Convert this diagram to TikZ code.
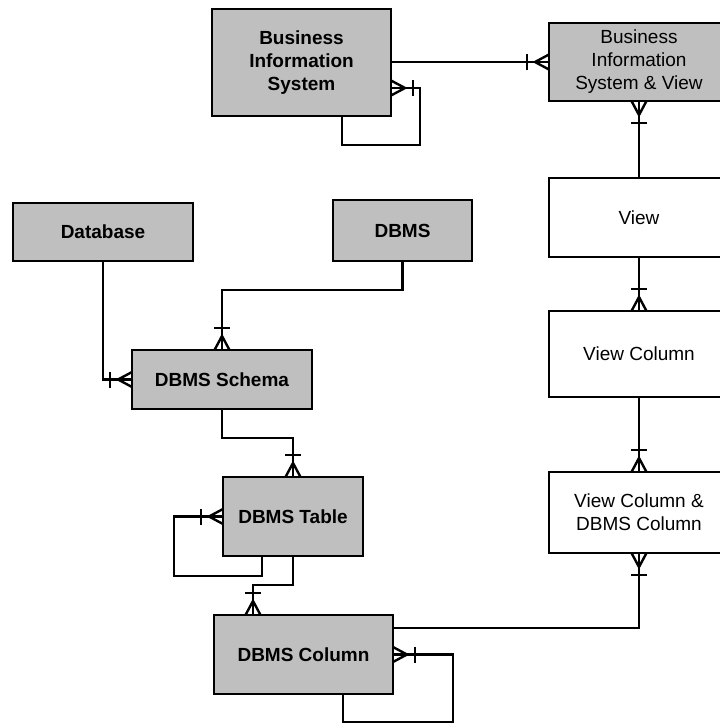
\documentclass[tikz,border=0pt]{standalone}
\usepackage{fontspec}
\setmainfont{Liberation Sans}
\begin{document}
\begin{tikzpicture}[x=1pt,y=-1pt,
  entity/.style={draw=black, line width=2.4pt, rectangle, inner sep=0pt, outer sep=0pt,
    align=center, font=\fontsize{19}{23}\selectfont},
  core/.style={entity, fill=lightgray, font=\fontsize{19}{23}\selectfont\bfseries},
  link/.style={entity, fill=lightgray},
  plain/.style={entity, fill=white},
  conn/.style={draw=black, line width=2.4pt},
  crow/.pic={
    \draw[conn] (0pt,7.5pt) -- (14pt,0pt) -- (0pt,-7.5pt);
    \draw[conn] (22pt,8pt) -- (22pt,-8pt);
  }]
\useasboundingbox (0,0) rectangle (720,723);
\clip (0,0) rectangle (720,723);

% entities
\node[core, minimum width=179pt, minimum height=107pt] (bis) at (301.5,62.5)
  {Business\\Information\\System};
\node[link, minimum width=180pt, minimum height=78pt] (bisv) at (639,62)
  {Business\\Information\\System \& View};
\node[plain, minimum width=180pt, minimum height=79pt] (view) at (639,217.5) {View};
\node[plain, minimum width=180pt, minimum height=86pt] (vcol) at (639,354) {View Column};
\node[plain, minimum width=180pt, minimum height=81pt] (vcdc) at (639,512.5)
  {View Column \&\\DBMS Column};
\node[core, minimum width=180pt, minimum height=58pt] (db) at (103,232) {Database};
\node[core, minimum width=139pt, minimum height=61pt] (dbms) at (402.5,230.5) {DBMS};
\node[core, minimum width=180pt, minimum height=59pt] (schema) at (222,379.5) {DBMS Schema};
\node[core, minimum width=140pt, minimum height=79pt] (table) at (293,516.5) {DBMS Table};
\node[core, minimum width=179pt, minimum height=79pt] (dcol) at (303.5,654.5) {DBMS Column};

% relationships
\draw[conn] (bisv.west -| bis.east) -- (bisv.west);
\pic[rotate=180] at (bisv.west) {crow};

\draw[conn] ([xshift=40.5pt]bis.south) -- ++(0,29) -- ++(78,0) |- ([yshift=-25.5pt]bis.east);
\pic at ([yshift=-25.5pt]bis.east) {crow};

\draw[conn] (bisv.south) -- (view.north);
\pic[rotate=-90] at (bisv.south) {crow};

\draw[conn] (view.south) -- (vcol.north);
\pic[rotate=90] at (vcol.north) {crow};

\draw[conn] (vcol.south) -- (vcdc.north);
\pic[rotate=90] at (vcdc.north) {crow};

\draw[conn] ([yshift=26.5pt]dcol.east) -| (vcdc.south);
\pic[rotate=-90] at (vcdc.south) {crow};

\draw[conn] (db.south) |- (schema.west);
\pic[rotate=180] at (schema.west) {crow};

\draw[conn] (dbms.south) -- ++(0,29) -| (schema.north);
\pic[rotate=90] at (schema.north) {crow};

\draw[conn] (schema.south) -- ++(0,29) -| (table.north);
\pic[rotate=90] at (table.north) {crow};

\draw[conn] ([xshift=-31pt]table.south) -- ++(0,20) -- ++(-88,0) |- (table.west);
\pic[rotate=180] at (table.west) {crow};

\draw[conn] (table.south) -- ++(0,29) -| ([xshift=-50.5pt]dcol.north);
\pic[rotate=90] at ([xshift=-50.5pt]dcol.north) {crow};

\draw[conn] ([xshift=39.5pt]dcol.south) -- ++(0,28) -- ++(110,0) |- (dcol.east);
\pic at (dcol.east) {crow};
\end{tikzpicture}
\end{document}
